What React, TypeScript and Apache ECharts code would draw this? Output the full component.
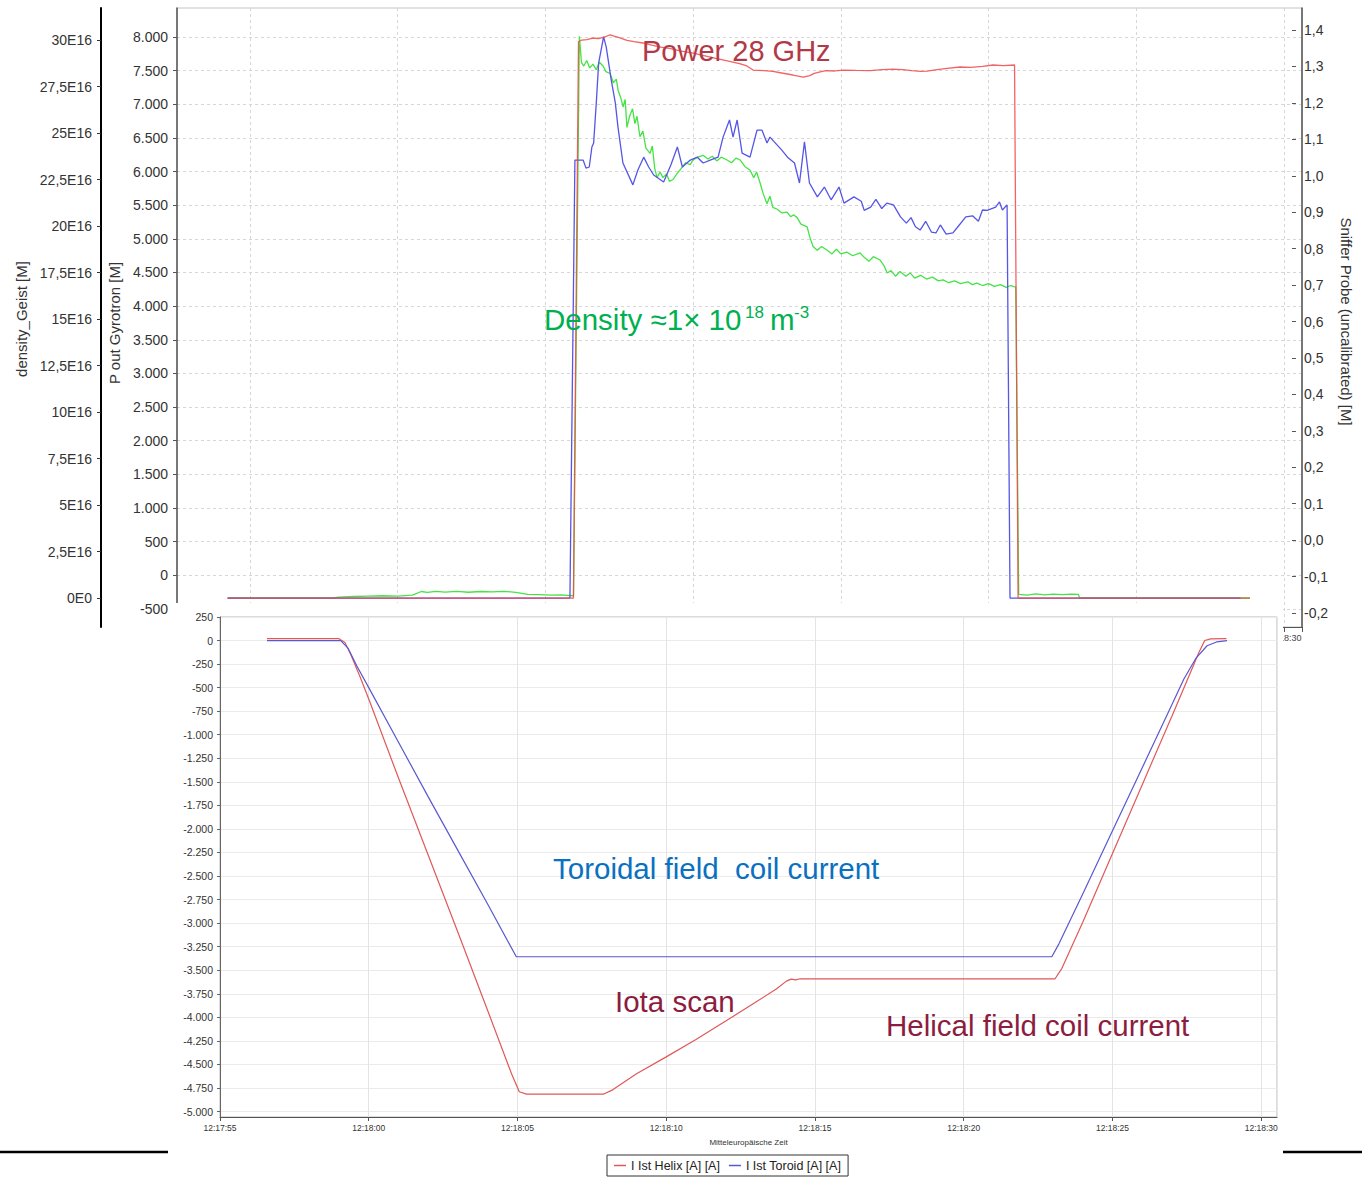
import React, { useEffect, useRef } from "react";
import * as echarts from "echarts";

const FONT = "'Liberation Sans', Arial, Helvetica, sans-serif";

// ---------- time base: seconds relative to 12:18:00 ----------
const BASE_SECONDS = 12 * 3600 + 18 * 60;

// ---------- TOP CHART (gyrotron power, density, sniffer probe) ----------
const topTimeMin = -7.47;
const topTimeMax = 30.61;
const pOutRange = [-500, 8000];
const pOutStep = 500;
const densityRange = [0, 30]; // in units of 1E16
const densityStep = 2.5;
const snifferRange = [-0.2, 1.4];
const snifferStep = 0.1;

// P out Gyrotron [W]
const powerData: [number, number][] = [
  [-5.75, -340], [5.95, -340], [6.12, 7930], [6.23, 7955], [6.4, 7960], [6.61, 7985],
  [6.8, 7975], [7.0, 8000], [7.19, 8030], [7.35, 8010], [7.5, 7990], [7.76, 7950],
  [8.0, 7930], [8.3, 7911], [8.6, 7880], [8.9, 7850], [9.2, 7830], [9.6, 7790],
  [10.0, 7760], [10.4, 7720], [10.8, 7680], [11.2, 7640], [11.6, 7600], [11.82, 7570],
  [12.03, 7509], [12.4, 7500], [12.7, 7490], [13.0, 7465], [13.38, 7435], [13.73, 7405],
  [13.95, 7425], [14.1, 7460], [14.3, 7480], [14.5, 7500], [14.8, 7495], [15.08, 7509],
  [15.5, 7503], [16.0, 7500], [16.4, 7515], [16.77, 7524], [17.1, 7515], [17.4, 7500],
  [17.7, 7490], [17.92, 7494], [18.2, 7512], [18.6, 7535], [19.03, 7554], [19.4, 7548],
  [19.8, 7562], [20.15, 7584], [20.5, 7576], [20.88, 7584], [21.0, -340], [28.85, -340],
];

// density_Geist [x1E16]
const densityData: [number, number][] = [
  [-5.75, 0], [-2.2, 0], [-2.0, 0.05], [-1.5, 0.08], [-1.0, 0.1], [-0.5, 0.12], [0, 0.1],
  [0.5, 0.15], [0.8, 0.35], [1.0, 0.3], [1.3, 0.36], [1.6, 0.32], [2.0, 0.36], [2.4, 0.31],
  [2.8, 0.35], [3.2, 0.33], [3.6, 0.36], [4.0, 0.3], [4.4, 0.2], [4.8, 0.18], [5.2, 0.15],
  [5.6, 0.16], [5.95, 0.12], [6.15, 30.2], [6.22, 28.8], [6.3, 28.6], [6.4, 28.9], [6.5, 28.5],
  [6.61, 28.7], [6.72, 28.4], [6.83, 28.8], [6.95, 28.6], [7.05, 28.3], [7.19, 28.2],
  [7.3, 27.7], [7.4, 27.9], [7.46, 27.3], [7.55, 26.9], [7.63, 26.4], [7.7, 26.8],
  [7.76, 25.3], [7.85, 25.9], [7.95, 26.3], [8.03, 25.5], [8.1, 25.9], [8.2, 24.8],
  [8.3, 25.1], [8.4, 24.2], [8.54, 23.9], [8.62, 24.3], [8.7, 23.1], [8.78, 22.6],
  [8.88, 22.9], [8.98, 22.6], [9.1, 22.8], [9.2, 22.4], [9.32, 22.5], [9.45, 22.8],
  [9.6, 23.1], [9.75, 23.4], [9.9, 23.3], [10.0, 23.55], [10.15, 23.7], [10.34, 23.8],
  [10.5, 23.6], [10.65, 23.75], [10.8, 23.5], [10.95, 23.7], [11.15, 23.55], [11.3, 23.4],
  [11.45, 23.65], [11.59, 23.55], [11.75, 23.2], [11.93, 23.0], [12.05, 22.6], [12.15, 22.9],
  [12.27, 22.3], [12.38, 21.7], [12.5, 21.2], [12.6, 21.6], [12.7, 21.0], [12.85, 20.9],
  [13.0, 20.7], [13.18, 20.75], [13.3, 20.5], [13.4, 20.6], [13.52, 20.45], [13.65, 20.1],
  [13.86, 19.95], [13.95, 19.4], [14.06, 18.9], [14.2, 18.7], [14.35, 18.9], [14.54, 18.7],
  [14.7, 18.5], [14.85, 18.75], [15.0, 18.5], [15.2, 18.6], [15.4, 18.4], [15.65, 18.55],
  [15.8, 18.3], [15.95, 18.1], [16.1, 18.35], [16.33, 18.17], [16.45, 17.9], [16.57, 17.47],
  [16.7, 17.6], [16.85, 17.3], [17.0, 17.55], [17.2, 17.3], [17.35, 17.47], [17.5, 17.2],
  [17.7, 17.35], [17.9, 17.15], [18.1, 17.25], [18.3, 17.05], [18.46, 17.1], [18.65, 16.95],
  [18.85, 17.05], [19.05, 16.9], [19.3, 17.0], [19.45, 16.85], [19.61, 16.93], [19.8, 16.8],
  [20.0, 16.9], [20.2, 16.75], [20.4, 16.85], [20.6, 16.7], [20.75, 16.8], [20.92, 16.72],
  [21.02, 0.2], [21.3, 0.16], [21.6, 0.22], [21.9, 0.17], [22.2, 0.21], [22.5, 0.18],
  [22.8, 0.21], [23.04, 0.2], [23.08, 0], [28.85, 0],
];

// Sniffer Probe (uncalibrated) [V]
const snifferData: [number, number][] = [
  [-5.75, -0.159], [5.95, -0.159], [6.12, 1.043], [6.4, 1.043], [6.5, 1.021], [6.61, 1.024],
  [6.7, 1.079], [6.76, 1.09], [6.85, 1.2], [6.93, 1.309], [7.1, 1.381], [7.19, 1.353],
  [7.36, 1.263], [7.5, 1.2], [7.59, 1.134], [7.76, 1.035], [8.1, 0.975], [8.27, 1.016],
  [8.47, 1.051], [8.64, 1.024], [8.81, 1.002], [9.15, 0.983], [9.4, 1.03], [9.62, 1.079],
  [9.79, 1.024], [10.06, 1.043], [10.3, 1.051], [10.5, 1.035], [10.74, 1.043], [11.01, 1.051],
  [11.18, 1.106], [11.4, 1.153], [11.52, 1.106], [11.66, 1.153], [11.83, 1.062], [12.1, 1.051],
  [12.34, 1.125], [12.51, 1.125], [12.68, 1.09], [12.78, 1.106], [13.18, 1.071], [13.38, 1.051],
  [13.62, 1.035], [13.79, 0.98], [13.96, 1.093], [14.13, 0.98], [14.4, 0.942], [14.64, 0.969],
  [14.87, 0.934], [15.14, 0.969], [15.31, 0.925], [15.65, 0.942], [15.9, 0.93], [16.0, 0.905],
  [16.22, 0.914], [16.4, 0.935], [16.6, 0.91], [16.77, 0.925], [17.0, 0.92], [17.24, 0.887],
  [17.44, 0.87], [17.6, 0.885], [17.75, 0.86], [17.91, 0.851], [18.1, 0.875], [18.3, 0.845],
  [18.45, 0.843], [18.6, 0.865], [18.8, 0.84], [19.03, 0.843], [19.2, 0.86], [19.47, 0.887],
  [19.7, 0.89], [19.9, 0.875], [20.04, 0.906], [20.2, 0.905], [20.49, 0.914], [20.62, 0.928],
  [20.72, 0.906], [20.88, 0.92], [20.98, -0.159], [28.85, -0.159],
];

// ---------- BOTTOM CHART (coil currents) ----------
const bottomTimeMin = -5;
const bottomTimeMax = 30.53;
const bottomTimeStep = 5;
const currentRange = [-5000, 250];
const currentStep = 250;

const helixName = "I Ist Helix [A] [A]";
const toroidName = "I Ist Toroid [A] [A]";

const helixData: [number, number][] = [
  [-3.42, 20], [-1.0, 20], [-0.8, -20], [-0.6, -150], [-0.3, -380], [0, -620], [1.0, -1460],
  [2.0, -2280], [3.0, -3100], [4.0, -3930], [4.8, -4600], [5.06, -4790], [5.3, -4815],
  [7.9, -4815], [8.2, -4770], [9.0, -4600], [10.0, -4420], [11.0, -4236], [12.0, -4040],
  [13.0, -3840], [13.7, -3700], [14.04, -3616], [14.2, -3595], [14.35, -3603], [14.5, -3591],
  [23.07, -3591], [23.3, -3480], [24.0, -2990], [25.0, -2260], [26.0, -1530], [27.0, -800],
  [27.5, -430], [27.9, -130], [28.1, 0], [28.3, 18], [28.83, 20],
];

const toroidData: [number, number][] = [
  [-3.42, 0], [-0.94, 0], [-0.7, -80], [-0.4, -270], [0, -500], [1.0, -1079], [2.0, -1660],
  [3.0, -2230], [4.0, -2800], [4.96, -3357], [22.96, -3357], [23.2, -3220], [24.0, -2690],
  [25.0, -2020], [26.0, -1350], [27.0, -680], [27.4, -409], [27.8, -190], [28.18, -55],
  [28.5, -15], [28.85, 0],
];

// ---------- formatters ----------
function clock(t: number): string {
  const s = Math.round(BASE_SECONDS + t);
  const h = Math.floor(s / 3600);
  const m = Math.floor((s % 3600) / 60);
  const sec = s % 60;
  return `${h}:${String(m).padStart(2, "0")}:${String(sec).padStart(2, "0")}`;
}
function thousands(v: number): string {
  const r = Math.round(v);
  const sign = r < 0 ? "-" : "";
  return sign + Math.abs(r).toString().replace(/\B(?=(\d{3})+(?!\d))/g, ".");
}
function comma1(v: number): string {
  const s = (Math.abs(v) < 1e-9 ? 0 : v).toFixed(1).replace(".", ",");
  return s === "-0,0" ? "0,0" : s;
}
function densityLabel(v: number): string {
  if (Math.abs(v) < 1e-9) return "0E0";
  const r = Math.round(v * 10) / 10;
  return String(r).replace(".", ",") + "E16";
}
function topClock(v: number): string {
  return Math.abs(v / 5 - Math.round(v / 5)) < 1e-6 ? clock(v) : "";
}

export default function App() {
  const ref = useRef<HTMLDivElement>(null);

  useEffect(() => {
    if (!ref.current) return;
    const chart = echarts.init(ref.current, undefined, { renderer: "svg" });

    const topGrid = { left: 177, width: 1125 };
    const hiddenTopX = (gi: number) => ({
      type: "value", gridIndex: gi, min: topTimeMin, max: topTimeMax, show: false,
      axisLine: { show: false, onZero: false },
    });
    const frameY = (extra: any) => ({
      type: "value", gridIndex: 0, min: 0, max: 1,
      axisTick: { show: false }, axisLabel: { show: false }, splitLine: { show: false },
      ...extra,
    });
    const tickLabel = { fontFamily: FONT, fontSize: 14, color: "#333" };
    const nameStyle = { fontFamily: FONT, fontSize: 15, color: "#333" };
    const bigText = (x: number, y: number, text: string, fill: string, size = 29.5) => ({
      type: "text", z: 100, x, y,
      style: { text, fill, fontSize: size, fontFamily: FONT, textAlign: "left", textVerticalAlign: "middle" },
    });

    const option: any = {
      animation: false,
      backgroundColor: "#ffffff",
      textStyle: { fontFamily: FONT },
      grid: [
        { ...topGrid, top: 8, height: 619, show: true, borderColor: "#c4c4c4", borderWidth: 1, backgroundColor: "transparent" },
        { ...topGrid, top: 37, height: 571.9 },
        { ...topGrid, top: 40, height: 558 },
        { ...topGrid, top: 30, height: 583 },
        { left: 220, width: 1057, top: 617, height: 500, show: true, borderColor: "#b8b8b8", borderWidth: 1, backgroundColor: "#ffffff", z: 60 },
        { left: 220, width: 1057, top: 617, height: 494.5, z: 60 },
      ],
      xAxis: [
        {
          type: "value", gridIndex: 0, min: topTimeMin, max: topTimeMax, splitNumber: 7,
          axisLine: { show: true, onZero: false, lineStyle: { color: "#555", width: 1 } },
          axisTick: { show: true, length: 5, lineStyle: { color: "#555" } },
          axisLabel: { show: true, fontSize: 9, color: "#444", margin: 6, formatter: topClock },
          splitLine: { show: true, lineStyle: { color: "#d6d6d6", type: [3, 3], width: 1 } },
        },
        hiddenTopX(1),
        hiddenTopX(2),
        hiddenTopX(3),
        {
          type: "value", gridIndex: 4, min: bottomTimeMin, max: bottomTimeMax, interval: bottomTimeStep, z: 60,
          axisLine: { show: true, onZero: false, lineStyle: { color: "#555", width: 1 } },
          axisTick: { show: true, length: 4, lineStyle: { color: "#555" } },
          axisLabel: { fontSize: 8.5, color: "#333", margin: 6, formatter: (v: number) => clock(v) },
          splitLine: { show: true, lineStyle: { color: "#e4e4e4", width: 1 } },
          name: "Mitteleuropäische Zeit", nameLocation: "middle", nameGap: 21,
          nameTextStyle: { fontSize: 8, color: "#333", fontFamily: FONT },
        },
        { type: "value", gridIndex: 5, min: bottomTimeMin, max: bottomTimeMax, show: false, axisLine: { show: false, onZero: false } },
      ],
      yAxis: [
        frameY({ position: "left", axisLine: { show: true, onZero: false, lineStyle: { color: "#555", width: 1.5 } } }),
        frameY({ position: "right", axisLine: { show: true, onZero: false, lineStyle: { color: "#555", width: 1.5 } } }),
        frameY({ position: "left", offset: 76, axisLine: { show: true, onZero: false, lineStyle: { color: "#000", width: 2 } } }),
        {
          type: "value", gridIndex: 1, position: "left", min: pOutRange[0], max: pOutRange[1], interval: pOutStep,
          axisLine: { show: false, onZero: false },
          axisTick: { show: true, length: 4, lineStyle: { color: "#555" } },
          axisLabel: { ...tickLabel, margin: 9, formatter: (v: number) => thousands(v) },
          splitLine: { show: true, lineStyle: { color: "#d6d6d6", type: [3, 3], width: 1 } },
          name: "P out Gyrotron [M]", nameLocation: "middle", nameGap: 55, nameTextStyle: nameStyle,
        },
        {
          type: "value", gridIndex: 2, position: "left", offset: 76, min: densityRange[0], max: densityRange[1], interval: densityStep,
          axisLine: { show: false, onZero: false },
          axisTick: { show: true, length: 4, lineStyle: { color: "#333" } },
          axisLabel: { ...tickLabel, margin: 9, formatter: densityLabel },
          splitLine: { show: false },
          name: "density_Geist [M]", nameLocation: "middle", nameGap: 72, nameTextStyle: nameStyle,
        },
        {
          type: "value", gridIndex: 3, position: "right", min: snifferRange[0], max: snifferRange[1], interval: snifferStep,
          axisLine: { show: false, onZero: false },
          axisTick: { show: true, length: 4, lineStyle: { color: "#555" } },
          axisLabel: { ...tickLabel, margin: 12, formatter: comma1 },
          splitLine: { show: false },
          name: "Sniffer Probe (uncalibrated) [M]", nameLocation: "middle", nameRotate: -90, nameGap: 46, nameTextStyle: nameStyle,
        },
        {
          type: "value", gridIndex: 4, position: "left", min: 0, max: 1, z: 60,
          axisLine: { show: true, onZero: false, lineStyle: { color: "#666", width: 1 } },
          axisTick: { show: false }, axisLabel: { show: false }, splitLine: { show: false },
        },
        {
          type: "value", gridIndex: 5, position: "left", min: currentRange[0], max: currentRange[1], interval: currentStep, z: 60,
          axisLine: { show: false, onZero: false },
          axisTick: { show: true, length: 3, lineStyle: { color: "#666" } },
          axisLabel: { fontFamily: FONT, fontSize: 10.5, color: "#333", margin: 7, formatter: (v: number) => thousands(v) },
          splitLine: { show: true, lineStyle: { color: "#ebebeb", width: 1 } },
        },
      ],
      legend: {
        z: 60, left: 607, top: 1155, orient: "horizontal",
        data: [helixName, toroidName],
        borderColor: "#333", borderWidth: 1, padding: [4, 7, 4, 7], itemGap: 9,
        itemWidth: 12, itemHeight: 1.5, icon: "rect",
        textStyle: { fontFamily: FONT, fontSize: 12.5, color: "#222" },
      },
      series: [
        {
          type: "line", name: "density", xAxisIndex: 2, yAxisIndex: 4, data: densityData,
          showSymbol: false, symbol: "none", clip: false, lineStyle: { color: "#44e444", width: 1.3 },
        },
        {
          type: "line", name: "sniffer", xAxisIndex: 3, yAxisIndex: 5, data: snifferData,
          showSymbol: false, symbol: "none", clip: false, lineStyle: { color: "#5555e6", width: 1.3 },
        },
        {
          type: "line", name: "power", xAxisIndex: 1, yAxisIndex: 3, data: powerData,
          showSymbol: false, symbol: "none", clip: false, lineStyle: { color: "#f04848", width: 1.3, opacity: 0.85 },
        },
        {
          type: "line", name: helixName, xAxisIndex: 5, yAxisIndex: 7, data: helixData, z: 62,
          showSymbol: false, symbol: "none", clip: false, color: "#e05858", lineStyle: { color: "#e05858", width: 1.2 },
        },
        {
          type: "line", name: toroidName, xAxisIndex: 5, yAxisIndex: 7, data: toroidData, z: 62,
          showSymbol: false, symbol: "none", clip: false, color: "#5858d0", lineStyle: { color: "#5858d0", width: 1.2 },
        },
      ],
      graphic: [
        { type: "rect", z: 50, shape: { x: 169, y: 603, width: 1114, height: 574 }, style: { fill: "#ffffff" } },
        { type: "line", z: 55, shape: { x1: 0, y1: 1152, x2: 168, y2: 1152 }, style: { stroke: "#000", lineWidth: 2.5 } },
        { type: "line", z: 55, shape: { x1: 1283, y1: 1152, x2: 1362, y2: 1152 }, style: { stroke: "#000", lineWidth: 2.5 } },
        bigText(642, 51, "Power 28 GHz", "#b23a48", 29),
        bigText(544, 319, "Density ≈1× 10", "#00b050", 29.5),
        { type: "text", z: 100, x: 745, y: 304, style: { text: "18", fill: "#00b050", fontSize: 17, fontFamily: FONT, textAlign: "left", textVerticalAlign: "top" } },
        bigText(770, 319, "m", "#00b050", 29.5),
        { type: "text", z: 100, x: 794, y: 304, style: { text: "-3", fill: "#00b050", fontSize: 17, fontFamily: FONT, textAlign: "left", textVerticalAlign: "top" } },
        bigText(553, 868, "Toroidal field\u00a0 coil current", "#0a70c0"),
        bigText(615, 1001, "Iota scan", "#8c1d40"),
        bigText(886, 1025, "Helical field coil current", "#8c1d40"),
      ],
    };

    chart.setOption(option);
    return () => chart.dispose();
  }, []);

  return (
    <div
      ref={ref}
      style={{ position: "absolute", left: 0, top: 0, width: 1362, height: 1177, background: "#fff" }}
    />
  );
}
